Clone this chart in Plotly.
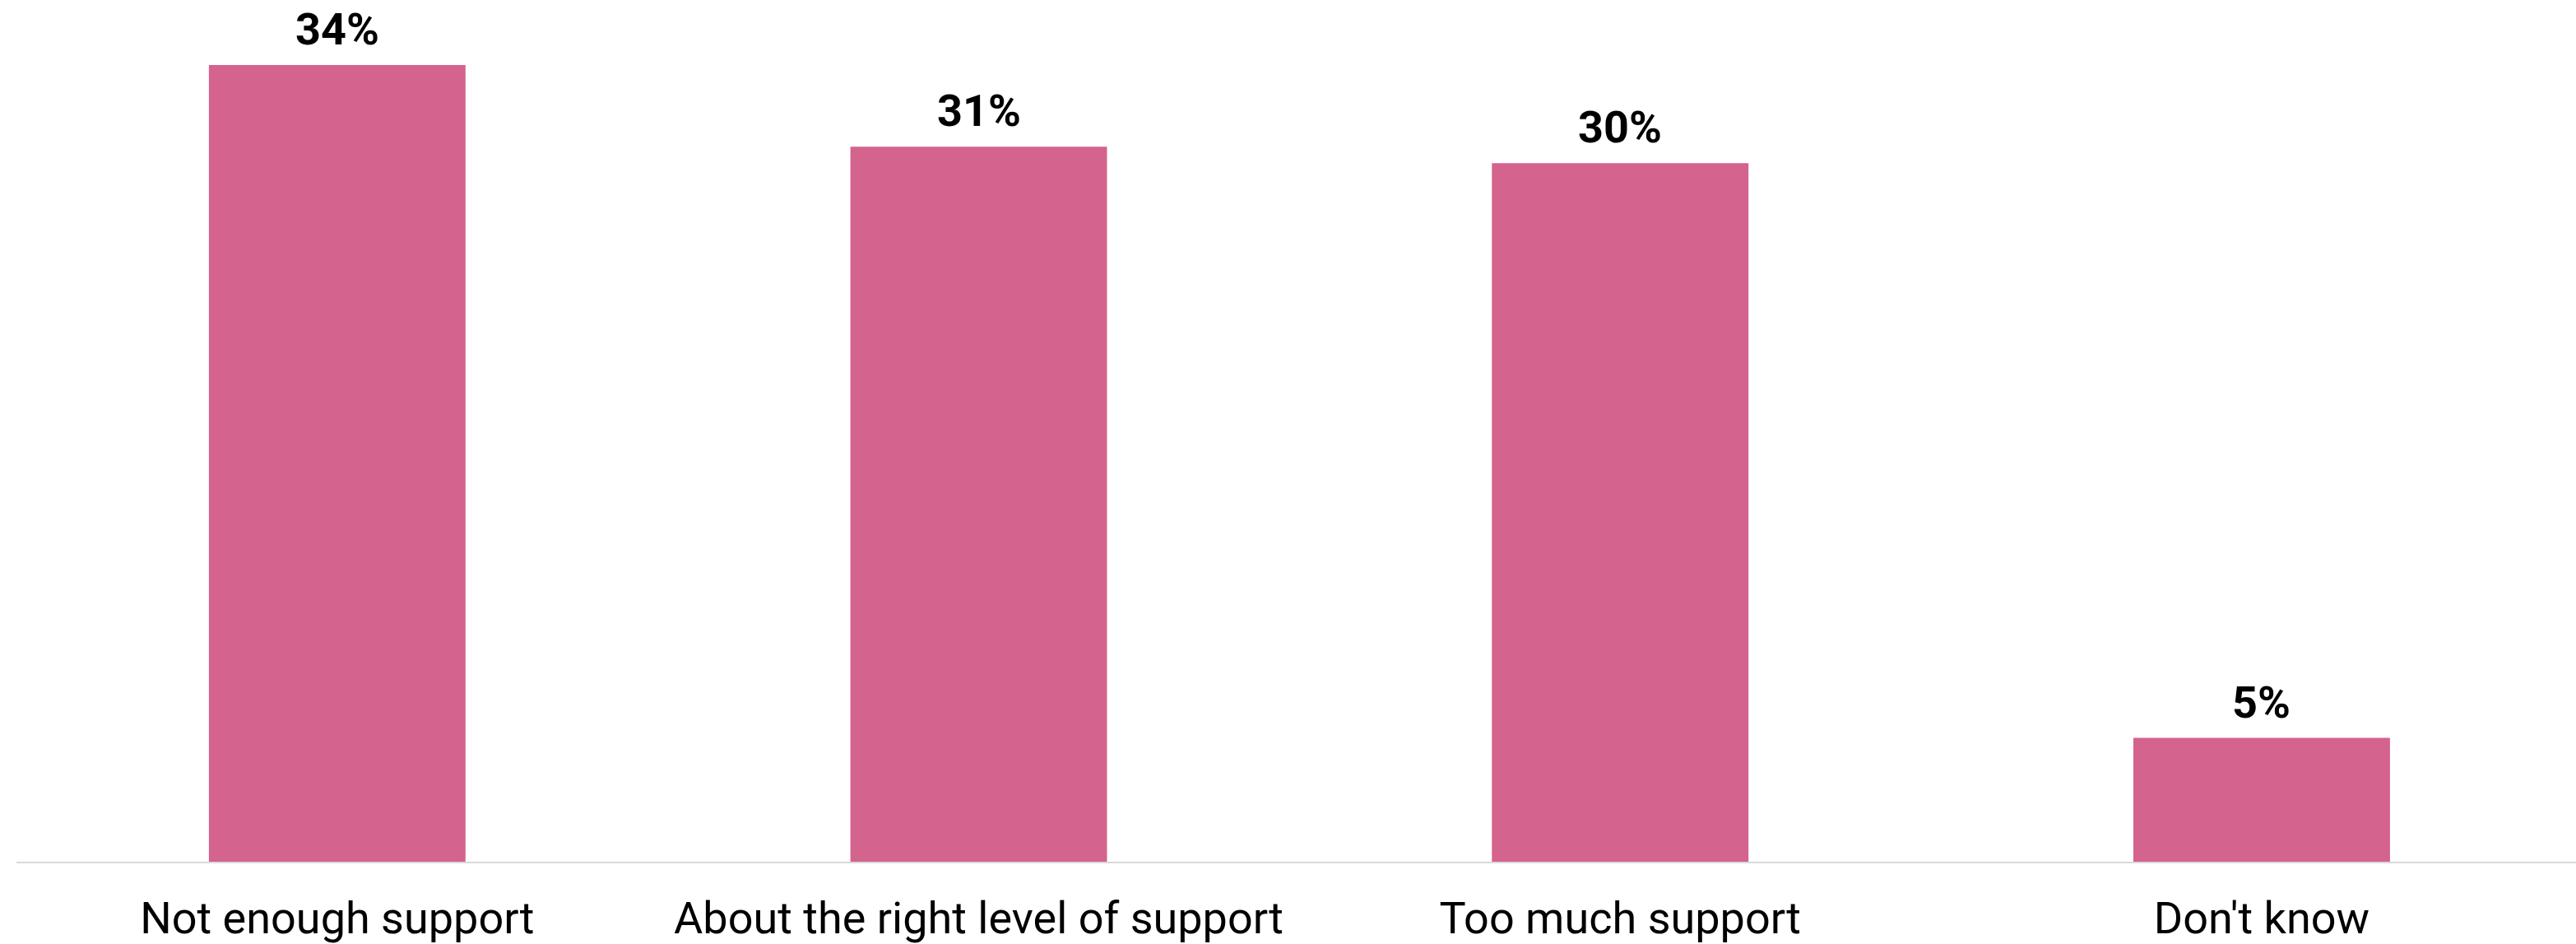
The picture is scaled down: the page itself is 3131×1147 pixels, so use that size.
import plotly.graph_objects as go

categories = ["Not enough support", "About the right level of support", "Too much support", "Don't know"]
values = [34.1, 30.6, 29.9, 5.3]
labels = ["34%", "31%", "30%", "5%"]

BAR_COLOR = "#D4638E"

fig = go.Figure()
fig.add_trace(go.Bar(
    x=categories,
    y=values,
    width=0.4,
    marker=dict(color=BAR_COLOR, line=dict(width=0)),
    hoverinfo="skip",
))

for c, v, t in zip(categories, values, labels):
    fig.add_annotation(
        x=c, y=v, text=f"<b>{t}</b>", showarrow=False,
        yanchor="bottom", yshift=10,
        font=dict(family="Roboto", size=54, color="#000000"),
    )

fig.update_layout(
    width=3131, height=1147,
    margin=dict(l=20, r=0, t=20, b=96),
    paper_bgcolor="white", plot_bgcolor="white",
    showlegend=False,
    bargap=0.6,
    hovermode=False,
    font=dict(family="Roboto", size=54, color="#000000"),
    xaxis=dict(
        range=[-0.5, 3.49],
        showline=True, linecolor="#d9d9d9", linewidth=2,
        showgrid=False, ticks="", zeroline=False,
        ticklabelstandoff=20,
        tickfont=dict(family="Roboto", size=54, color="#000000"),
    ),
    yaxis=dict(
        range=[0, 1031 / 28.5],
        visible=False, showgrid=False, zeroline=False,
    ),
)

# remove the browser's default 8px body margin so the figure fills the window
fig.write_html(
    "out.html",
    config={"displayModeBar": False, "staticPlot": True},
    post_script="document.body.style.margin='0';",
)
